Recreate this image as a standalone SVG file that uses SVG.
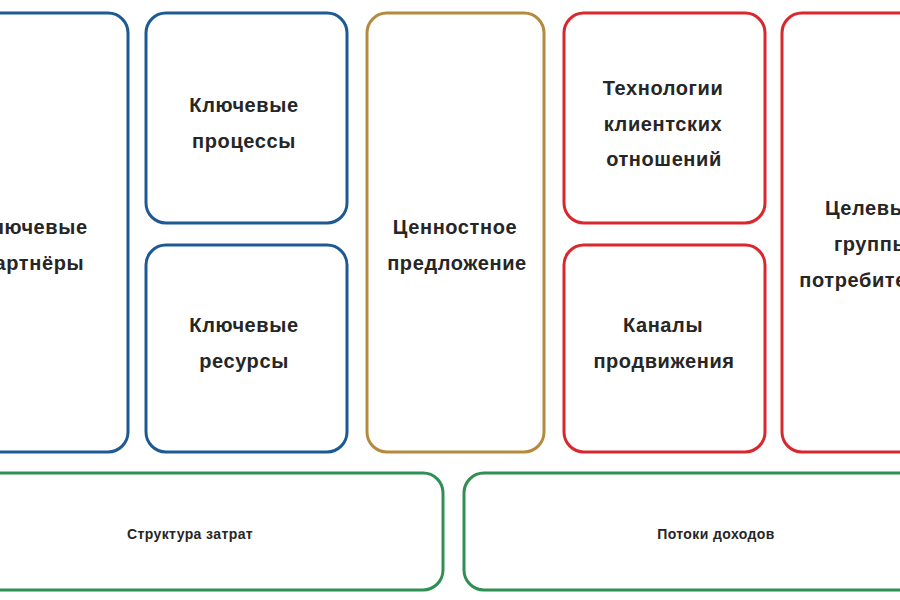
<svg xmlns="http://www.w3.org/2000/svg" width="900" height="600" viewBox="0 0 900 600">
<style>
rect{fill:#fff;stroke-width:3}
.b{stroke:#1d5a93}.o{stroke:#b68a3e}.r{stroke:#d8282e}.g{stroke:#2f8f55}
text{font-family:"Liberation Sans",Arial,sans-serif;font-weight:bold;fill:#262626;text-anchor:middle}
.t{font-size:20px;letter-spacing:0.6px}
.s{font-size:14px;letter-spacing:0.4px}
</style>
<rect width="900" height="600" style="stroke:none"/>
<g id="partners"><rect class="b" x="-60" y="13" width="188" height="439" rx="20"/>
<text class="t" x="33" y="234">Ключевые</text><text class="t" x="33" y="270">партнёры</text></g>
<g id="activities"><rect class="b" x="146" y="13" width="201" height="210" rx="20"/>
<text class="t" x="244" y="112">Ключевые</text><text class="t" x="244" y="148">процессы</text></g>
<g id="resources"><rect class="b" x="146" y="245" width="201" height="207" rx="20"/>
<text class="t" x="244" y="332">Ключевые</text><text class="t" x="244" y="368">ресурсы</text></g>
<g id="value"><rect class="o" x="367" y="13" width="177" height="439" rx="20"/>
<text class="t" x="455" y="234">Ценностное</text><text class="t" x="457" y="270">предложение</text></g>
<g id="relations"><rect class="r" x="564" y="13" width="201" height="210" rx="20"/>
<text class="t" x="663" y="95">Технологии</text><text class="t" x="663" y="131">клиентских</text><text class="t" x="664" y="166">отношений</text></g>
<g id="channels"><rect class="r" x="564" y="245" width="201" height="207" rx="20"/>
<text class="t" x="663" y="332">Каналы</text><text class="t" x="664" y="368">продвижения</text></g>
<g id="segments"><rect class="r" x="782" y="13" width="180" height="439" rx="20"/>
<text class="t" x="872" y="215">Целевые</text><text class="t" x="872" y="251">группы</text><text class="t" x="872" y="287">потребителей</text></g>
<g id="costs"><rect class="g" x="-60" y="473" width="503" height="117" rx="20"/>
<text class="s" x="190" y="539">Структура затрат</text></g>
<g id="revenue"><rect class="g" x="464" y="473" width="500" height="117" rx="20"/>
<text class="s" x="716" y="539">Потоки доходов</text></g>
<g id="connectors"/>
</svg>
